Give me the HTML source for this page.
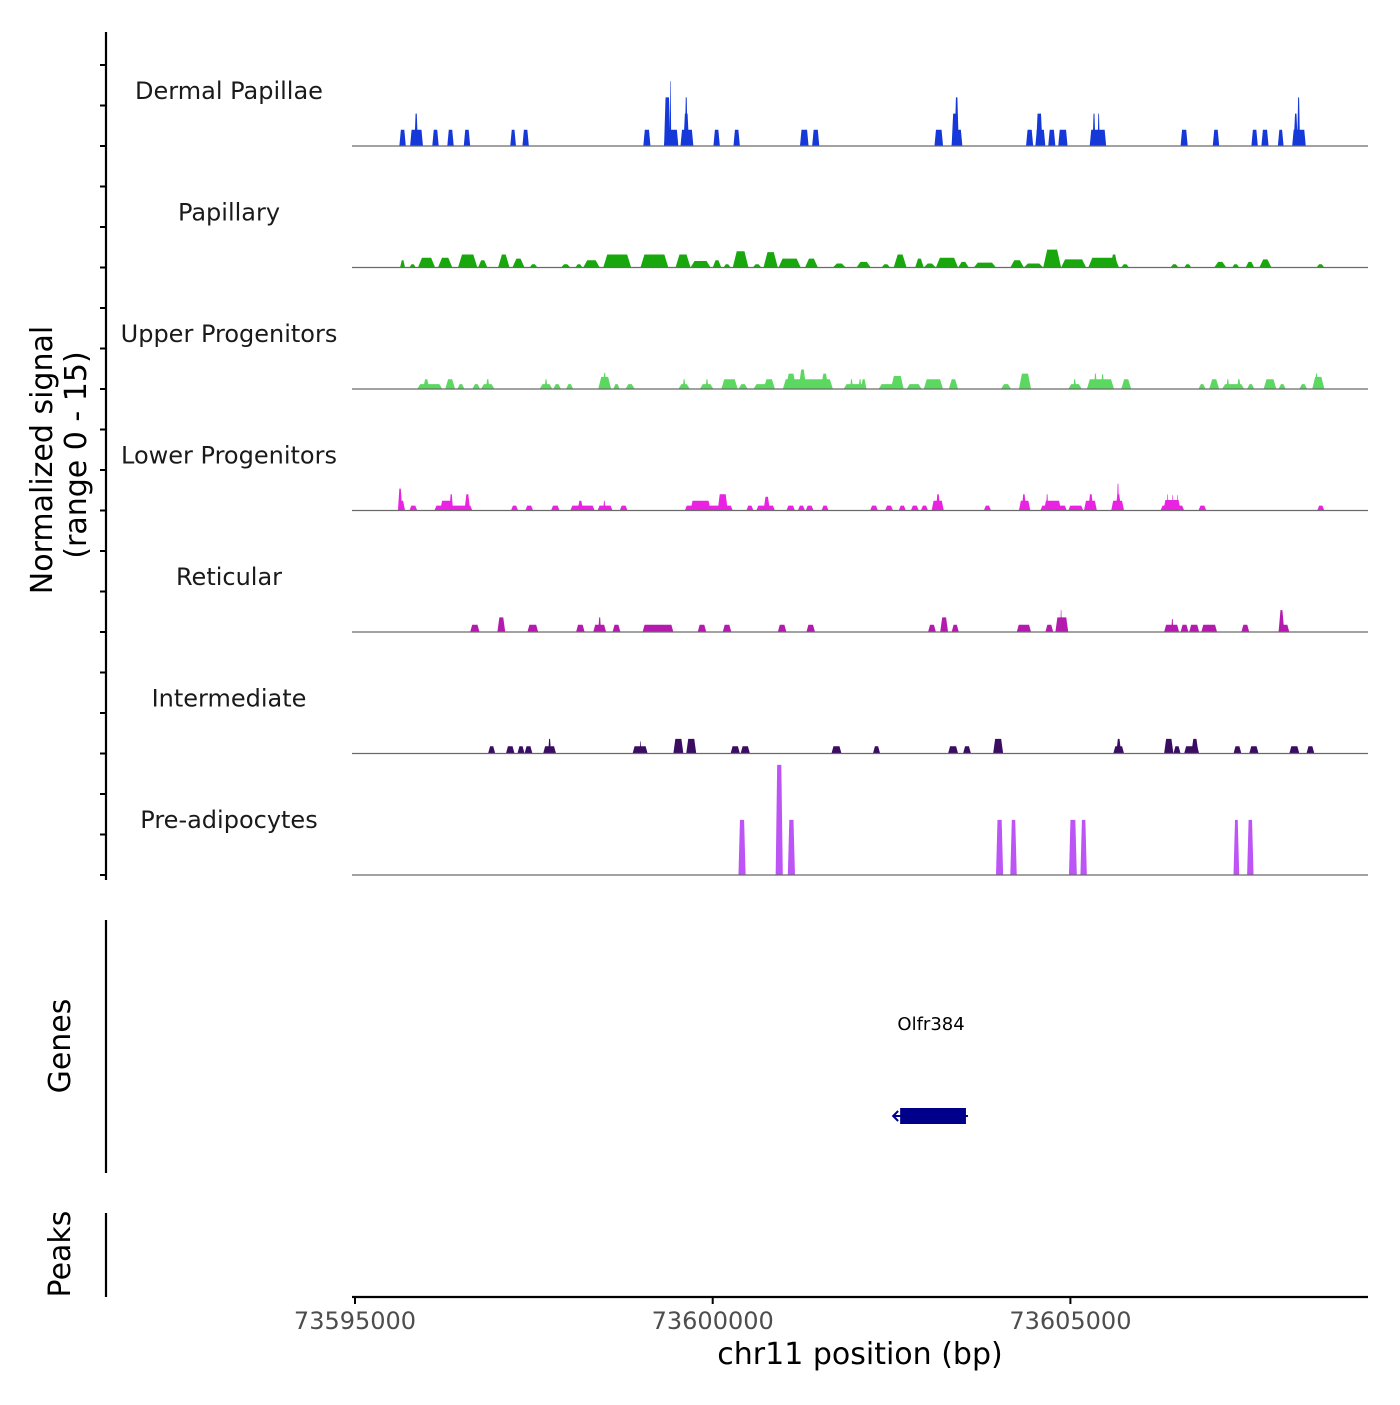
<!DOCTYPE html>
<html><head><meta charset="utf-8">
<style>
html,body{margin:0;padding:0;background:#fff;}
svg text{font-family:"DejaVu Sans","Liberation Sans",sans-serif;}
</style></head>
<body>
<svg id="chart" width="1400" height="1400" viewBox="0 0 1400 1400" xmlns="http://www.w3.org/2000/svg">
<g id="tracks"></g>
<g id="yaxis">
<line x1="106" y1="32" x2="106" y2="880" stroke="#000" stroke-width="2.2"/>
</g>
<text transform="translate(52,460) rotate(-90)" text-anchor="middle" font-size="30" fill="#000">Normalized signal</text>
<text transform="translate(86,455) rotate(-90)" text-anchor="middle" font-size="30" fill="#000">(range 0 - 15)</text>
<line x1="106" y1="920" x2="106" y2="1173" stroke="#000" stroke-width="2.2"/>
<text transform="translate(70,1046) rotate(-90)" text-anchor="middle" font-size="30" fill="#000">Genes</text>
<line x1="106" y1="1213" x2="106" y2="1297" stroke="#000" stroke-width="2.2"/>
<text transform="translate(70,1254) rotate(-90)" text-anchor="middle" font-size="30" fill="#000">Peaks</text>
<g id="genes"></g>
<g id="xaxis">
<line x1="352" y1="1297" x2="1368" y2="1297" stroke="#000" stroke-width="2.2"/>
</g>
<text x="860" y="1364" text-anchor="middle" font-size="30" fill="#000">chr11 position (bp)</text>
</svg>
<script>
// genomic offsets in kb from 73595000; [start, end, signal]
const trackNames = ["Dermal Papillae","Papillary","Upper Progenitors","Lower Progenitors","Reticular","Intermediate","Pre-adipocytes"];
const trackColors = ["#1538d9","#18a80e","#5bd860","#ea22e2","#b51aae","#3a0c62","#bd55f6"];
const dermalPapillae = [[0.62,0.71,2],[0.77,0.95,2],[0.83,0.88,4],[1.08,1.17,2],[1.29,1.38,2],[1.52,1.61,2],[2.17,2.25,2],[2.34,2.43,2],[4.03,4.13,2],[4.32,4.52,2],[4.32,4.41,6],[4.40,4.42,8],[4.55,4.73,2],[4.59,4.67,4],[4.61,4.65,6],[5.01,5.10,2],[5.29,5.38,2],[6.22,6.34,2],[6.39,6.49,2],[8.10,8.22,2],[8.34,8.49,2],[8.34,8.43,4],[8.38,8.44,6],[9.38,9.48,2],[9.51,9.65,2],[9.52,9.61,4],[9.69,9.79,2],[9.83,9.96,2],[10.27,10.50,2],[10.31,10.35,4],[10.38,10.41,4],[11.54,11.64,2],[11.99,12.08,2],[12.53,12.62,2],[12.67,12.77,2],[12.90,12.98,2],[13.10,13.29,2],[13.12,13.18,4],[13.17,13.21,6]];
const papillary = [[0.63,0.70,0.9],[0.76,0.85,0.4],[0.88,1.12,1.2],[1.16,1.36,1.2],[1.44,1.71,1.6],[1.72,1.85,0.9],[2.00,2.16,1.6],[2.20,2.37,1.1],[2.44,2.55,0.4],[2.88,3.01,0.4],[3.08,3.18,0.4],[3.19,3.42,0.9],[3.47,3.86,1.6],[3.99,4.38,1.6],[4.48,4.69,1.6],[4.69,4.97,0.8],[5.00,5.12,0.9],[5.15,5.25,0.4],[5.28,5.50,2.0],[5.56,5.68,0.4],[5.71,5.91,1.9],[5.92,6.23,1.1],[6.29,6.47,1.1],[6.68,6.86,0.5],[7.01,7.21,0.7],[7.36,7.48,0.4],[7.53,7.71,1.6],[7.83,7.95,1.1],[7.95,8.12,0.5],[8.12,8.43,1.2],[8.43,8.58,0.7],[8.65,8.96,0.6],[9.16,9.35,0.9],[9.35,9.62,0.5],[9.62,9.87,2.2],[9.87,10.22,1.0],[10.25,10.68,1.2],[10.56,10.66,1.6],[10.71,10.82,0.4],[11.40,11.51,0.4],[11.59,11.69,0.4],[12.01,12.18,0.7],[12.26,12.36,0.4],[12.45,12.57,0.7],[12.64,12.81,1.0],[13.44,13.55,0.4]];
const upperProgenitors = [[0.87,1.22,0.6],[0.95,1.04,1.2],[1.26,1.40,1.2],[1.43,1.53,0.6],[1.64,1.75,0.6],[1.76,1.95,0.6],[1.83,1.88,1.2],[2.58,2.76,0.6],[2.65,2.69,1.2],[2.77,2.88,0.6],[2.95,3.05,0.6],[3.40,3.58,1.5],[3.47,3.51,2.0],[3.61,3.70,0.6],[3.78,3.91,0.6],[4.52,4.68,0.6],[4.58,4.62,1.2],[4.82,5.01,0.6],[4.90,4.94,1.2],[5.12,5.35,1.2],[5.36,5.49,0.6],[5.57,5.87,0.6],[5.71,5.87,1.2],[5.98,6.68,1.2],[6.02,6.17,1.9],[6.20,6.31,2.4],[6.51,6.62,1.9],[6.83,7.15,0.6],[6.92,6.96,1.2],[7.04,7.08,1.2],[7.07,7.15,1.2],[7.32,7.67,0.6],[7.49,7.67,1.6],[7.71,7.92,0.6],[7.95,8.22,1.2],[8.30,8.43,1.2],[9.03,9.17,0.6],[9.28,9.45,1.9],[9.97,10.16,0.6],[10.04,10.08,1.2],[10.23,10.61,1.2],[10.33,10.37,1.9],[10.43,10.47,1.8],[10.71,10.85,1.2],[11.79,11.89,0.6],[11.94,12.08,1.2],[12.12,12.43,0.6],[12.18,12.22,1.2],[12.33,12.38,1.2],[12.47,12.57,0.6],[12.70,12.88,1.2],[12.91,13.01,0.6],[13.20,13.31,0.6],[13.38,13.55,1.5],[13.42,13.46,1.9]];
const lowerProgenitors = [[0.60,0.66,2.7],[0.60,0.70,1.2],[0.76,0.87,0.6],[1.11,1.64,0.6],[1.19,1.36,1.2],[1.32,1.37,2.0],[1.53,1.61,2.0],[2.18,2.28,0.6],[2.38,2.49,0.6],[2.74,2.86,0.6],[3.01,3.35,0.6],[3.11,3.19,1.2],[3.39,3.60,0.6],[3.47,3.50,1.2],[3.70,3.81,0.6],[4.61,5.28,0.6],[4.69,4.97,1.2],[5.07,5.21,2.0],[5.47,5.57,0.6],[5.61,5.87,0.6],[5.71,5.80,1.7],[6.03,6.15,0.6],[6.19,6.29,0.6],[6.30,6.41,0.6],[6.52,6.62,0.6],[7.20,7.31,0.6],[7.41,7.52,0.6],[7.60,7.70,0.6],[7.77,7.88,0.6],[7.91,8.01,0.6],[8.06,8.23,1.2],[8.12,8.18,2.0],[8.79,8.89,0.6],[9.28,9.44,1.2],[9.32,9.38,2.0],[9.58,9.95,0.6],[9.63,9.87,1.2],[9.66,9.69,2.0],[9.97,10.18,0.6],[10.19,10.37,1.2],[10.25,10.32,2.0],[10.57,10.75,1.2],[10.63,10.71,2.0],[10.65,10.68,3.3],[11.26,11.59,0.6],[11.30,11.54,1.3],[11.35,11.37,2.0],[11.42,11.44,1.9],[11.49,11.51,1.9],[11.79,11.90,0.6],[13.45,13.55,0.6]];
const reticular = [[1.61,1.74,0.9],[1.99,2.10,1.8],[2.41,2.56,0.9],[3.09,3.21,0.9],[3.33,3.51,0.9],[3.40,3.44,1.8],[3.60,3.71,0.9],[4.02,4.45,0.9],[4.79,4.91,0.9],[5.14,5.26,0.9],[5.91,6.03,0.9],[6.31,6.43,0.9],[8.01,8.12,0.9],[8.18,8.29,1.8],[8.34,8.44,0.9],[9.25,9.45,0.9],[9.65,9.76,0.9],[9.79,9.97,1.8],[9.86,9.88,2.7],[11.31,11.52,0.9],[11.41,11.44,1.6],[11.54,11.65,0.9],[11.66,11.80,0.9],[11.83,12.05,0.9],[12.39,12.50,0.9],[12.91,12.99,2.7],[12.91,13.06,0.9]];
const intermediate = [[1.86,1.96,0.9],[2.11,2.23,0.9],[2.27,2.37,0.9],[2.37,2.48,0.9],[2.63,2.81,0.9],[2.70,2.74,1.8],[3.88,4.09,0.9],[3.98,4.00,1.5],[4.45,4.59,1.8],[4.63,4.77,1.8],[5.25,5.38,0.9],[5.39,5.52,0.9],[6.66,6.80,0.9],[7.24,7.34,0.9],[8.29,8.43,0.9],[8.50,8.61,0.9],[8.92,9.06,1.8],[10.60,10.75,0.9],[10.64,10.71,1.8],[11.31,11.44,1.8],[11.44,11.54,0.9],[11.59,11.80,0.9],[11.69,11.79,1.8],[12.28,12.39,0.9],[12.50,12.63,0.9],[13.06,13.20,0.9],[13.30,13.41,0.9]];
const preAdipocytes = [[5.36,5.46,6.8],[5.88,5.98,13.6],[6.05,6.15,6.8],[8.96,9.06,6.8],[9.16,9.25,6.8],[9.98,10.09,6.8],[10.14,10.23,6.8],[12.28,12.36,6.8],[12.47,12.56,6.8]];
const xTickValues = [73595000,73600000,73605000];
const xTickLabels = ["73595000","73600000","73605000"];
const geneName = "Olfr384";
const geneStart = 73602620, geneEnd = 73603540;

const series = [dermalPapillae,papillary,upperProgenitors,lowerProgenitors,reticular,intermediate,preAdipocytes];
const NS = "http://www.w3.org/2000/svg";
const domainStart = 73594958, domainEnd = 73609160, px0 = 352, px1 = 1368;
function xScale(bp){ return px0 + (bp - domainStart) * (px1 - px0) / (domainEnd - domainStart); }
function xKb(kb){ return xScale(73595000 + kb * 1000); }
const trackTop = 24.5, trackH = 121.5, pxPerUnit = 8.1;
const slopeMax = [1.5, 4, 3, 2, 2, 2, 1.5];
function baseY(i){ return trackTop + trackH * (i + 1); }
function yScale(i, v){ return baseY(i) - v * pxPerUnit; }

const tg = document.getElementById('tracks');
const ya = document.getElementById('yaxis');
series.forEach(function(data, i){
  const g = document.createElementNS(NS,'g');
  
  
  const b = baseY(i);
  data.forEach(function(d){
    const xa = xKb(d[0]), xb = xKb(d[1]), yt = yScale(i, d[2]);
    const s = Math.min(slopeMax[i], (xb - xa) / 3);
    const p = document.createElementNS(NS,'polygon');
    p.setAttribute('points', xa+','+b+' '+(xa+s)+','+yt+' '+(xb-s)+','+yt+' '+xb+','+b);
    p.setAttribute('fill', trackColors[i]);
    
    
    g.appendChild(p);
  });
  const bl = document.createElementNS(NS,'line');
  bl.setAttribute('x1', px0); bl.setAttribute('x2', px1);
  bl.setAttribute('y1', b); bl.setAttribute('y2', b);
  bl.setAttribute('stroke', '#6a6a6a'); bl.setAttribute('stroke-width', '1.2');
  
  
  g.appendChild(bl);
  const t = document.createElementNS(NS,'text');
  t.setAttribute('x', 229); t.setAttribute('y', b - 47);
  t.setAttribute('text-anchor', 'middle'); t.setAttribute('font-size', '24');
  t.setAttribute('fill', '#1a1a1a');
  
  
  t.textContent = trackNames[i];
  g.appendChild(t);
  tg.appendChild(g);
  [0,5,10,15].forEach(function(v){
    const yy = yScale(i, v);
    if (yy < 33) return;
    const tk = document.createElementNS(NS,'line');
    tk.setAttribute('x1', 100); tk.setAttribute('x2', 106);
    tk.setAttribute('y1', yy); tk.setAttribute('y2', yy);
    tk.setAttribute('stroke', '#000'); tk.setAttribute('stroke-width', '2');
    
    
    ya.appendChild(tk);
  });
});

// gene
const gg = document.getElementById('genes');
const gx0 = xScale(geneStart), gx1 = xScale(geneEnd);
const gl = document.createElementNS(NS,'line');
gl.setAttribute('x1', gx0 - 6); gl.setAttribute('x2', gx1 + 2);
gl.setAttribute('y1', 1116); gl.setAttribute('y2', 1116);
gl.setAttribute('stroke', '#00008b'); gl.setAttribute('stroke-width', '2');


gg.appendChild(gl);
const gr = document.createElementNS(NS,'rect');
gr.setAttribute('x', gx0); gr.setAttribute('y', 1108);
gr.setAttribute('width', gx1 - gx0); gr.setAttribute('height', 16);
gr.setAttribute('fill', '#00008b');


gg.appendChild(gr);
const ga = document.createElementNS(NS,'path');
ga.setAttribute('d', 'M'+(gx0-2)+',1111 L'+(gx0-7)+',1116 L'+(gx0-2)+',1121');
ga.setAttribute('stroke', '#00008b'); ga.setAttribute('stroke-width', '2'); ga.setAttribute('fill', 'none');


gg.appendChild(ga);
const gt = document.createElementNS(NS,'text');
gt.setAttribute('x', (gx0 + gx1) / 2 - 2); gt.setAttribute('y', 1030);
gt.setAttribute('text-anchor', 'middle'); gt.setAttribute('font-size', '18');
gt.setAttribute('fill', '#000');


gt.textContent = geneName;
gg.appendChild(gt);

// x axis
const xa = document.getElementById('xaxis');
xTickValues.forEach(function(v, k){
  const x = xScale(v);
  const tk = document.createElementNS(NS,'line');
  tk.setAttribute('x1', x); tk.setAttribute('x2', x);
  tk.setAttribute('y1', 1297); tk.setAttribute('y2', 1304);
  tk.setAttribute('stroke', '#000'); tk.setAttribute('stroke-width', '2');
  
  
  xa.appendChild(tk);
  const tl = document.createElementNS(NS,'text');
  tl.setAttribute('x', x); tl.setAttribute('y', 1329);
  tl.setAttribute('text-anchor', 'middle'); tl.setAttribute('font-size', '24');
  tl.setAttribute('fill', '#4d4d4d');
  
  
  tl.textContent = xTickLabels[k];
  xa.appendChild(tl);
});
</script>
</body></html>
